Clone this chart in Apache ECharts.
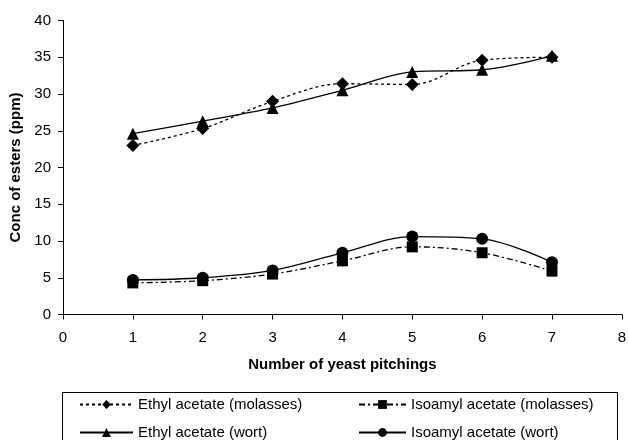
<!DOCTYPE html>
<html>
<head>
<meta charset="utf-8">
<script src="https://cdn.jsdelivr.net/npm/echarts@6/dist/echarts.min.js"></script>
<style>html,body{margin:0;padding:0;background:#fff;}#c{width:629px;height:440px;}</style>
</head>
<body>
<div id="c"></div>
<script>
var pitchings = [1, 2, 3, 4, 5, 6, 7];
var ethylMolasses = [23.0, 25.3, 29.0, 31.4, 31.3, 34.6, 35.0];
var ethylWort = [24.6, 26.3, 28.1, 30.5, 33.0, 33.3, 35.2];
var isoamylMolasses = [4.3, 4.6, 5.5, 7.3, 9.2, 8.4, 5.9];
var isoamylWort = [4.7, 5.0, 6.0, 8.4, 10.6, 10.3, 7.1];
var yTicks = [0, 5, 10, 15, 20, 25, 30, 35, 40];
var xTicks = [0, 1, 2, 3, 4, 5, 6, 7, 8];
var seriesNames = ['Ethyl acetate (molasses)', 'Isoamyl acetate (molasses)', 'Ethyl acetate (wort)', 'Isoamyl acetate (wort)'];

function pairs(vals) { return pitchings.map(function (x, i) { return [x, vals[i]]; }); }

var font = 'Arial, "Liberation Sans", sans-serif';
var chart = echarts.init(document.getElementById('c'), null, { renderer: 'canvas' });

function mk(name, vals, symbol, size, lineType) {
  return {
    name: name, type: 'line', data: pairs(vals), smooth: 0.35,
    symbol: symbol, symbolSize: size,
    itemStyle: { color: '#000' },
    lineStyle: { color: '#000', width: 1.3, type: lineType },
    emphasis: { disabled: true }, animation: false
  };
}
function lg(name, left, top, w) {
  return {
    left: left, top: top, itemWidth: w, itemHeight: 11, padding: 0,
    textStyle: { fontFamily: font, fontSize: 15, color: '#000' },
    data: [name], selectedMode: false
  };
}

chart.setOption({
  animation: false,
  grid: { left: 63, right: 1.5, top: 20.5, bottom: 125.5 },
  xAxis: {
    type: 'value', min: xTicks[0], max: xTicks[xTicks.length - 1], interval: 1,
    name: 'Number of yeast pitchings', nameLocation: 'middle', nameGap: 43,
    nameTextStyle: { fontFamily: font, fontWeight: 'bold', fontSize: 15, color: '#000' },
    axisLine: { lineStyle: { color: '#000', width: 1 } },
    axisTick: { show: true, length: 5, lineStyle: { color: '#000' } },
    axisLabel: { color: '#000', fontFamily: font, fontSize: 15, margin: 16 },
    splitLine: { show: false }
  },
  yAxis: {
    type: 'value', min: yTicks[0], max: yTicks[yTicks.length - 1], interval: 5,
    name: 'Conc of esters (ppm)', nameLocation: 'middle', nameGap: 39,
    nameTextStyle: { fontFamily: font, fontWeight: 'bold', fontSize: 15, color: '#000' },
    axisLine: { show: true, lineStyle: { color: '#000', width: 1 } },
    axisTick: { show: true, length: 5, lineStyle: { color: '#000' } },
    axisLabel: { color: '#000', fontFamily: font, fontSize: 15, margin: 12 },
    splitLine: { show: false }
  },
  legend: [
    lg(seriesNames[0], 79, 397, 53),
    lg(seriesNames[2], 79, 425, 53),
    lg(seriesNames[1], 358, 397, 47),
    lg(seriesNames[3], 358, 425, 47)
  ],
  graphic: [{
    type: 'rect', shape: { x: 62.5, y: 392.5, width: 555, height: 60 },
    style: { fill: 'none', stroke: '#000', lineWidth: 1 }, silent: true
  }],
  series: [
    mk(seriesNames[0], ethylMolasses, 'diamond', 13, [3, 3]),
    mk(seriesNames[1], isoamylMolasses, 'rect', 11, [6, 3, 2, 3]),
    mk(seriesNames[2], ethylWort, 'triangle', 12, 'solid'),
    mk(seriesNames[3], isoamylWort, 'circle', 12, 'solid')
  ]
});
</script>
</body>
</html>
